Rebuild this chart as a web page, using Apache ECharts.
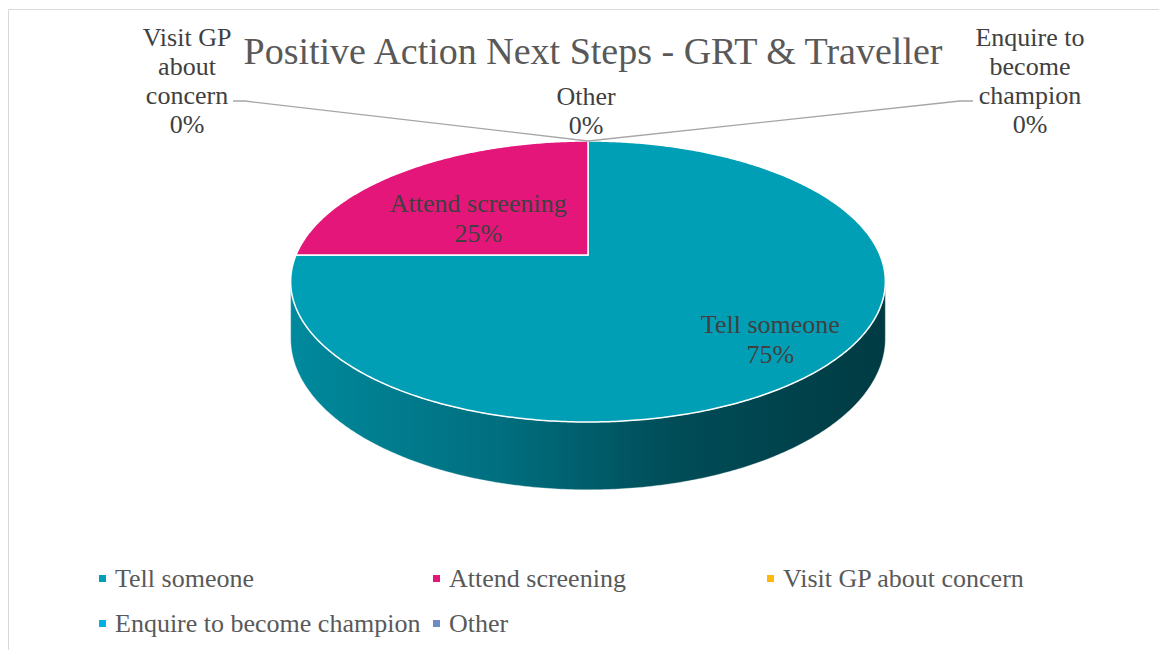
<!DOCTYPE html>
<html><head><meta charset="utf-8">
<script src="https://cdn.jsdelivr.net/npm/echarts@6/dist/echarts.min.js"></script>
<style>html,body{margin:0;padding:0;background:#fff}#chart{width:1159px;height:650px}</style>
</head><body><div id="chart"></div>
<script>
// ---- data ----
const titleText = 'Positive Action Next Steps - GRT & Traveller';
const categories = ['Tell someone', 'Attend screening', 'Visit GP about concern', 'Enquire to become champion', 'Other'];
const values = [75, 25, 0, 0, 0];

// ---- styles / layout ----
const colors = ['#009FB6', '#E5167A', '#FFB80A', '#00B2E3', '#7089C9'];
const FONT = '"Liberation Serif", "DejaVu Serif", serif';
const VIEW = { cx: 588, cy: 255, A: 292, B: 135.5, p: 0.1886, H: 55 };
// label placement for non-zero slices (radius fraction + shift) and zero slices (outside with leader)
const labelLayout = [
  { r: 0.79, dx: 0, dy: 0 },
  { r: 0.5, dx: -13, dy: 8 },
  { x: 187, y: 81, line: [[233, 101], [245, 101]], lines: 'Visit GP\nabout\nconcern' },
  { x: 1030, y: 81, line: [[973, 101], [960, 101]], lines: 'Enquire to\nbecome\nchampion' },
  { x: 586, y: 111, line: null, lines: 'Other' }
];

const total = values.reduce((s, v) => s + v, 0);
const startFrac = [];
let acc = 0;
values.forEach(v => { startFrac.push(acc / total); acc += v; });

function proj(a, r, depth) {
  const X = Math.sin(a) * r, Z = -Math.cos(a) * r;
  const w = 1 - VIEW.p * Z;
  return [VIEW.cx + VIEW.A * X / w, VIEW.cy + (VIEW.B * Z + VIEW.H * depth) / w];
}
const wallFrom = Math.acos(-VIEW.p), wallTo = 2 * Math.PI - Math.acos(-VIEW.p);

function shade(hex, f) {
  const n = parseInt(hex.slice(1), 16);
  const r = Math.round(((n >> 16) & 255) * f), g = Math.round(((n >> 8) & 255) * f), b = Math.round((n & 255) * f);
  return 'rgb(' + r + ',' + g + ',' + b + ')';
}
function arc(a0, a1, depth) {
  const pts = [];
  const n = Math.max(2, Math.ceil((a1 - a0) / 0.01));
  for (let k = 0; k <= n; k++) pts.push(proj(a0 + (a1 - a0) * k / n, 1, depth));
  return pts;
}

function makeRender(i) {
  return function (params, api) {
    const v = api.value(0);
    const a0 = startFrac[i] * 2 * Math.PI;
    const a1 = a0 + v / total * 2 * Math.PI;
    const color = colors[i];
    const pct = Math.round(v / total * 100) + '%';
    const children = [];
    if (v > 0) {
      const s = Math.max(a0, wallFrom), e = Math.min(a1, wallTo);
      if (e > s) {
        const pts = arc(s, e, 0).concat(arc(s, e, 1).reverse());
        children.push({
          type: 'polygon', shape: { points: pts },
          style: {
            fill: { type: 'linear', x: 0, y: 0, x2: 1, y2: 0, colorStops: [
              { offset: 0, color: shade(color, 0.86) },
              { offset: 0.35, color: shade(color, 0.7) },
              { offset: 0.65, color: shade(color, 0.48) },
              { offset: 1, color: shade(color, 0.37) }] },
            stroke: 'rgba(255,255,255,0.6)', lineWidth: 0.6
          }
        });
      }
      const top = [[VIEW.cx, VIEW.cy]].concat(arc(a0, a1, 0));
      children.push({
        type: 'polygon', shape: { points: top },
        style: { fill: color, stroke: '#ffffff', lineWidth: 1.5 }
      });
      const L = labelLayout[i];
      const mid = (a0 + a1) / 2;
      const pt = proj(mid, L.r, 0);
      children.push({
        type: 'text',
        style: { text: categories[i] + '\n' + pct, x: pt[0] + L.dx, y: pt[1] + L.dy,
          align: 'center', verticalAlign: 'middle', fill: '#404040',
          fontFamily: FONT, fontSize: 26, lineHeight: 30 }
      });
    } else {
      const L = labelLayout[i];
      const rim = proj(a0, 1, 0);
      if (L.line) {
        children.push({
          type: 'polyline', shape: { points: L.line.concat([rim]) },
          style: { stroke: '#A6A6A6', lineWidth: 1.3, fill: null }
        });
      }
      children.push({
        type: 'text',
        style: { text: L.lines + '\n' + pct, x: L.x, y: L.y,
          align: 'center', verticalAlign: 'middle', fill: '#404040',
          fontFamily: FONT, fontSize: 26, lineHeight: 29 }
      });
    }
    return { type: 'group', children: children };
  };
}

const series = categories.map((name, i) => ({
  type: 'custom', name: name, coordinateSystem: 'none',
  itemStyle: { color: colors[i] },
  data: [[values[i]]],
  renderItem: makeRender(i),
  silent: true, animation: false
}));

const chart = echarts.init(document.getElementById('chart'), null, { renderer: 'svg' });
chart.setOption({
  backgroundColor: '#ffffff',
  animation: false,
  title: {
    text: titleText, left: 588, top: 27, textAlign: 'center',
    textStyle: { fontFamily: FONT, fontSize: 38, fontWeight: 'normal', color: '#595959' }
  },
  legend: {
    data: categories, left: 99, top: 562, width: 1010, padding: 0,
    icon: 'rect', itemWidth: 7, itemHeight: 7, itemGap: 12,
    selectedMode: false,
    textStyle: { fontFamily: FONT, fontSize: 26, color: '#595959', width: 306, lineHeight: 33, padding: [0, 0, 0, 4] }
  },
  graphic: [{
    type: 'rect', silent: true, z: -10,
    shape: { x: 8.5, y: 9.5, width: 1200, height: 700 },
    style: { fill: null, stroke: '#D9D9D9', lineWidth: 1 }
  }],
  series: series
});
</script></body></html>
